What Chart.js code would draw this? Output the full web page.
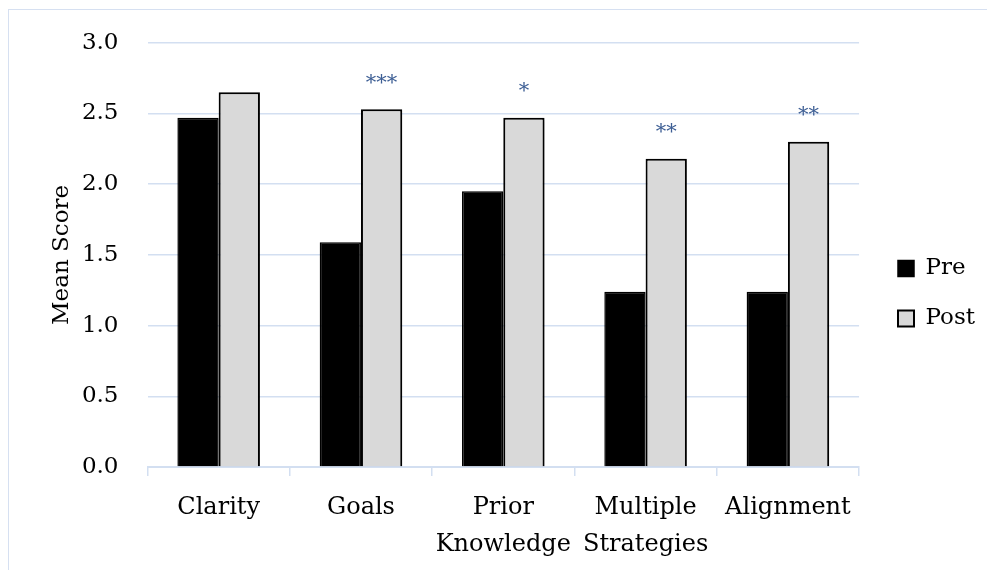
<!DOCTYPE html>
<html>
<head>
<meta charset="utf-8">
<script src="https://cdn.jsdelivr.net/npm/chart.js@4.4.1/dist/chart.umd.min.js"></script>
<style>
  html, body { margin: 0; padding: 0; background: #fff; }
  #wrap { position: relative; width: 987px; height: 570px; }
  #frame { position: absolute; left: 8px; top: 9px; right: -5px; bottom: -5px;
           border-top: 1.5px solid #d6e0f1; border-left: 1.5px solid #d6e0f1; }
  canvas { position: absolute; left: 0; top: 0; }
</style>
</head>
<body>
<div id="wrap">
  <div id="frame"></div>
  <canvas id="scoreChart" width="987" height="570"></canvas>
</div>
<script>
// chart data
const categories = ["Clarity", "Goals", ["Prior", "Knowledge"], ["Multiple", "Strategies"], "Alignment"];
const preScores = [2.47, 1.59, 1.95, 1.24, 1.24];
const postScores = [2.65, 2.53, 2.47, 2.18, 2.30];
const significance = ["", "***", "*", "**", "**"];
const yTicks = [0, 0.5, 1.0, 1.5, 2.0, 2.5, 3.0];

const gridBlue = "#d3dff1";
const serif = "'DejaVu Serif', serif";

// draws the asterisks above the Post bars
const starLabels = {
    id: "starLabels",
    afterDatasetsDraw(chart) {
        const ctx = chart.ctx;
        const meta = chart.getDatasetMeta(1);
        ctx.save();
        ctx.fillStyle = "#3e5f95";
        ctx.font = "21px " + serif;
        ctx.textAlign = "center";
        ctx.textBaseline = "middle";
        meta.data.forEach(function (bar, i) {
            if (significance[i]) {
                ctx.fillText(significance[i], bar.x, bar.y - 26);
            }
        });
        ctx.restore();
    }
};

// light shadow on the bars
const barShadow = {
    id: "barShadow",
    beforeDatasetsDraw(chart) {
        const ctx = chart.ctx;
        ctx.save();
        ctx.shadowColor = "rgba(0,0,0,0.25)";
        ctx.shadowBlur = 3;
        ctx.shadowOffsetX = 1;
        ctx.shadowOffsetY = 1;
    },
    afterDatasetsDraw(chart) {
        chart.ctx.restore();
    }
};

// move the legend box to sit like the original (right, a bit below middle)
const legendPlace = {
    id: "legendPlace",
    afterLayout(chart) {
        const lg = chart.legend;
        const dx = 871 - lg.left;
        const dy = 230 - lg.top;
        lg.left += dx; lg.right += dx;
        lg.top += dy; lg.bottom += dy;
    }
};

document.addEventListener("DOMContentLoaded", function () {
    renderScoreChart();
});

function renderScoreChart() {
    var ctx = document.getElementById("scoreChart").getContext("2d");
    new Chart(ctx, {
        type: "bar",
        data: {
            labels: categories,
            datasets: [{
                label: "Pre",
                data: preScores,
                backgroundColor: "#000000",
                borderColor: "#000000",
                borderWidth: 1.5
            }, {
                label: "Post",
                data: postScores,
                backgroundColor: "#d9d9d9",
                borderColor: "#000000",
                borderWidth: 2
            }]
        },
        options: {
            responsive: false,
            animation: false,
            devicePixelRatio: 1,
            categoryPercentage: 0.58,
            barPercentage: 1.0,
            layout: {
                padding: { left: 8, right: 14, top: 41, bottom: 8 }
            },
            plugins: {
                tooltip: { enabled: false },
                legend: {
                    position: "right",
                    align: "start",
                    labels: {
                        color: "#000",
                        font: { family: serif, size: 23 },
                        boxWidth: 16,
                        boxHeight: 16,
                        padding: 27
                    }
                }
            },
            scales: {
                x: {
                    afterFit: function (axis) { axis.height = 95; },
                    grid: {
                        offset: true,
                        drawOnChartArea: false,
                        drawTicks: true,
                        tickLength: 9,
                        color: gridBlue,
                        lineWidth: 1.5
                    },
                    border: { display: true, color: gridBlue, width: 2 },
                    ticks: {
                        color: "#000",
                        font: { family: serif, size: 24, lineHeight: 1.55 },
                        padding: 13,
                        maxRotation: 0,
                        autoSkip: false
                    }
                },
                y: {
                    min: 0,
                    max: 3.0,
                    afterFit: function (axis) { axis.width = 139.5; },
                    afterBuildTicks: function (axis) {
                        axis.ticks = yTicks.map(v => ({ value: v }));
                    },
                    grid: {
                        drawTicks: false,
                        color: gridBlue,
                        lineWidth: 1.5
                    },
                    border: { display: false },
                    ticks: {
                        color: "#000",
                        font: { family: serif, size: 23 },
                        padding: 29,
                        callback: v => v.toFixed(1)
                    },
                    title: {
                        display: true,
                        text: "Mean Score",
                        color: "#000",
                        font: { family: serif, size: 23 },
                        padding: { top: 40, bottom: 6 }
                    }
                }
            }
        },
        plugins: [barShadow, starLabels, legendPlace]
    });
}
</script>
</body>
</html>
